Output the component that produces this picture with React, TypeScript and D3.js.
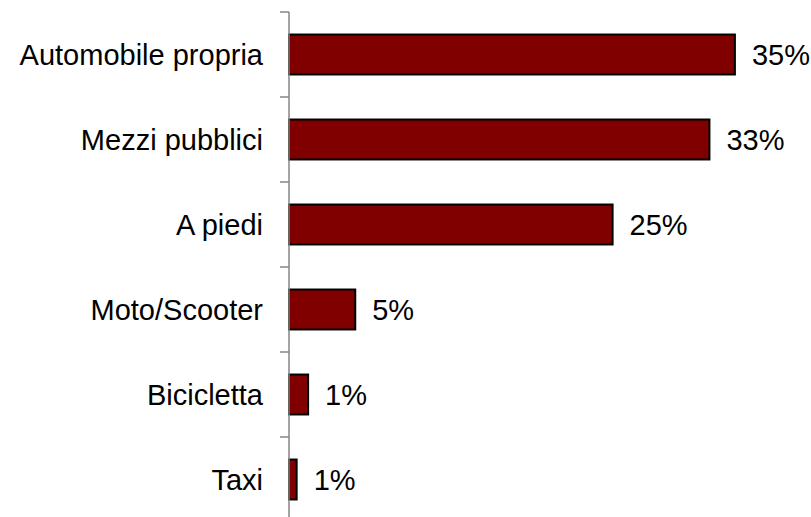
import React from "react";
import * as d3 from "d3";

const categories = ["Automobile propria", "Mezzi pubblici", "A piedi", "Moto/Scooter", "Bicicletta", "Taxi"];
const values = [35, 33, 25.4, 5.2, 1.5, 0.6];
const valueLabels = ["35%", "33%", "25%", "5%", "1%", "1%"];

const W = 811;
const H = 517;
const AXIS_X = 289;

export default function App() {
  const x = d3.scaleLinear().domain([0, 40]).range([AXIS_X, AXIS_X + 509.6]);
  const y = d3.scaleBand<string>().domain(categories).range([12, 522]).padding(0);
  const bw = y.bandwidth();
  const barH = bw * 0.47;
  const ticks = categories.map((c) => y(c) as number).concat([522]);
  const font = "Arial, 'Liberation Sans', sans-serif";

  return (
    <svg
      width={W}
      height={H}
      style={{ position: "fixed", left: 0, top: 0, background: "#fff" }}
      fontFamily={font}
    >
      <rect x={0} y={0} width={W} height={H} fill="#fff" />
      {categories.map((c, i) => {
        const y0 = (y(c) as number) + (bw - barH) / 2;
        const cy = (y(c) as number) + bw / 2;
        return (
          <g key={c}>
            <rect
              x={x(0)}
              y={y0}
              width={x(values[i]) - x(0)}
              height={barH}
              fill="#800000"
              stroke="#000"
              strokeWidth={2}
            />
            <text x={263} y={cy} dy="0.35em" textAnchor="end" fontSize={29} fill="#000">
              {c}
            </text>
            <text x={x(values[i]) + 17} y={cy} dy="0.35em" textAnchor="start" fontSize={29} fill="#000">
              {valueLabels[i]}
            </text>
          </g>
        );
      })}
      <line x1={AXIS_X} x2={AXIS_X} y1={12} y2={522} stroke="#868686" strokeWidth={1.5} />
      {ticks.map((t, i) => (
        <line key={i} x1={280} x2={AXIS_X} y1={t} y2={t} stroke="#868686" strokeWidth={1.5} />
      ))}
    </svg>
  );
}
